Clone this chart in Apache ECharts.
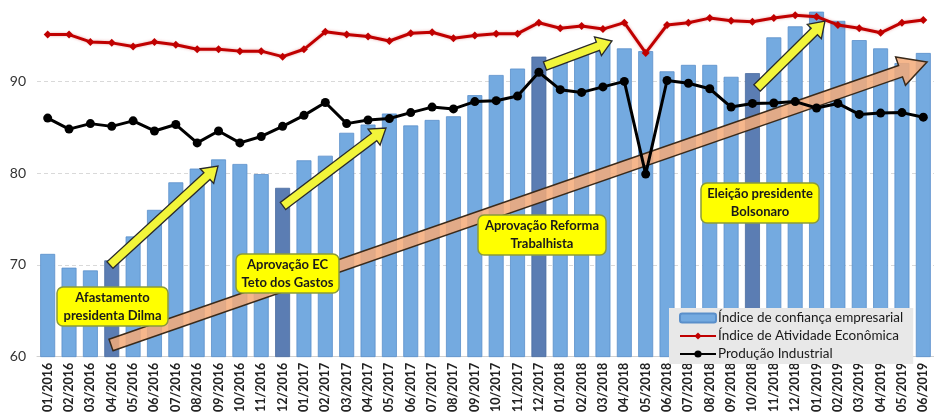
<!DOCTYPE html>
<html>
<head>
<meta charset="utf-8">
<script src="https://cdn.jsdelivr.net/npm/echarts@6/dist/echarts.min.js"></script>
<style>html,body{margin:0;padding:0;background:#fff}#c{width:934px;height:415px}</style>
</head>
<body>
<div id="c"></div>
<script>
const categories = ['01/2016','02/2016','03/2016','04/2016','05/2016','06/2016','07/2016','08/2016','09/2016','10/2016','11/2016','12/2016',
'01/2017','02/2017','03/2017','04/2017','05/2017','06/2017','07/2017','08/2017','09/2017','10/2017','11/2017','12/2017',
'01/2018','02/2018','03/2018','04/2018','05/2018','06/2018','07/2018','08/2018','09/2018','10/2018','11/2018','12/2018',
'01/2019','02/2019','03/2019','04/2019','05/2019','06/2019'];
const confianca = [71.2,69.7,69.4,70.5,73.1,76.0,79.0,80.5,81.5,81.0,79.9,78.4,
81.4,81.9,84.4,85.3,86.5,85.2,85.8,86.2,88.5,90.7,91.4,92.7,
92.4,93.1,94.5,93.6,93.3,91.1,91.8,91.8,90.5,90.9,94.8,96.0,
97.6,96.6,94.5,93.6,92.0,93.1];
const atividade = [95.1,95.1,94.3,94.2,93.8,94.3,94.0,93.5,93.5,93.3,93.3,92.7,
93.5,95.4,95.1,94.9,94.4,95.25,95.35,94.7,95.0,95.2,95.2,96.4,
95.8,96.05,95.7,96.4,93.1,96.15,96.4,96.9,96.6,96.5,96.9,97.2,
97.05,96.15,95.8,95.3,96.4,96.7];
const producao = [86.0,84.8,85.4,85.1,85.7,84.6,85.3,83.3,84.6,83.3,84.0,85.1,
86.3,87.7,85.4,85.8,85.95,86.6,87.2,87.0,87.8,87.9,88.4,91.0,
89.1,88.8,89.4,90.0,79.9,90.1,89.8,89.2,87.2,87.6,87.65,87.8,
87.1,87.6,86.4,86.55,86.6,86.1];
const highlighted = ['04/2016','12/2016','12/2017','10/2018'];
const yTicks = [60,70,80,90];

const FONT = 'Lato, "Open Sans", sans-serif';
const barColor = '#74aae0', barBorder = '#5a8fca', darkColor = '#5b7db3';
const gridC = '#d9d9d9';

function arrowPts(x1,y1,x2,y2,w,hw,hl){
  const dx=x2-x1, dy=y2-y1, L=Math.hypot(dx,dy);
  const ux=dx/L, uy=dy/L, nx=-uy, ny=ux;
  const bx=x2-ux*hl, by=y2-uy*hl;
  return [[x1+nx*w/2,y1+ny*w/2],[bx+nx*w/2,by+ny*w/2],[bx+nx*hw/2,by+ny*hw/2],[x2,y2],
          [bx-nx*hw/2,by-ny*hw/2],[bx-nx*w/2,by-ny*w/2],[x1-nx*w/2,y1-ny*w/2]];
}
function yellowArrow(x1,y1,x2,y2){
  return {type:'polygon', z:20, shape:{points:arrowPts(x1,y1,x2,y2,9,20,15)},
    style:{fill:'#f2f53a', stroke:'#2a2a2a', lineWidth:1.3}};
}
function box(x,y,w,h,lines){
  return {type:'group', z:30, children:[
    {type:'rect', z:30, shape:{x:x,y:y,width:w,height:h,r:6}, style:{fill:'#ffff00', stroke:'#8a9a3a', lineWidth:1.5}},
    {type:'text', z:31, x:x+w/2, y:y+h/2, style:{text:lines.join('\n'), font:'bold 13px '+FONT, fill:'#1a1a1a',
      align:'center', verticalAlign:'middle', lineHeight:18}}
  ]};
}

const chart = echarts.init(document.getElementById('c'), null, {renderer:'canvas'});
chart.setOption({
  animation:false,
  textStyle:{fontFamily:FONT},
  grid:{left:37, right:-5, top:8, bottom:57},
  legend:{
    orient:'vertical', left:669, top:308, width:250, itemWidth:36, itemHeight:9, itemGap:4,
    backgroundColor:'#e8e8e8', padding:[3,10,3,10], borderRadius:0,
    textStyle:{fontSize:13.5, color:'#1a1a1a', fontFamily:FONT, padding:[0,0,0,-3]},
    data:['Índice de confiança empresarial','Índice de Atividade Econômica','Produção Industrial']
  },
  xAxis:{
    type:'category', data:categories, boundaryGap:true,
    axisLine:{lineStyle:{color:'#d0d0d0', width:1}}, axisTick:{show:false},
    axisLabel:{rotate:90, interval:0, fontSize:12.5, color:'#222', fontFamily:FONT, fontWeight:'bold', margin:6}
  },
  yAxis:{
    type:'value', min:60, max:98, interval:10,
    axisLine:{show:false}, axisTick:{show:false},
    axisLabel:{fontSize:14, color:'#333', fontFamily:FONT, margin:11,
      formatter:v=> yTicks.indexOf(v)>=0 ? String(v) : ''},
    splitLine:{show:true, lineStyle:{color:[gridC,gridC,gridC,gridC,'rgba(0,0,0,0)'], type:[4,3], width:1}},
  },
  series:[
    {name:'Índice de confiança empresarial', type:'bar', z:2, barCategoryGap:'30%',
     itemStyle:{color:barColor, borderColor:barBorder, borderWidth:0.8},
     data:confianca.map((v,i)=> highlighted.indexOf(categories[i])>=0 ? {value:v, itemStyle:{color:darkColor, borderColor:'#4a6ca0'}} : v)},
    {name:'Índice de Atividade Econômica', type:'line', z:5, data:atividade,
     symbol:'diamond', symbolSize:8, lineStyle:{color:'#c00000', width:3, shadowColor:'rgba(192,0,0,0.35)', shadowBlur:3},
     itemStyle:{color:'#c00000'}},
    {name:'Produção Industrial', type:'line', z:6, data:producao,
     symbol:'circle', symbolSize:9, lineStyle:{color:'#000', width:3}, itemStyle:{color:'#000'}}
  ],
  graphic:[
    {type:'polygon', z:4, shape:{points:arrowPts(111,345,927,62,12,30,28)},
     style:{fill:'rgba(244,170,120,0.85)', stroke:'#3a2a1a', lineWidth:1.5}},
    yellowArrow(110,265,218,166),
    yellowArrow(283,206,386,128),
    yellowArrow(545,66,612,41),
    yellowArrow(757,88,825,21),
    box(57,287,111,39,['Afastamento','presidenta Dilma']),
    box(236,254,103,39,['Aprovação EC','Teto dos Gastos']),
    box(478,215,128,40,['Aprovação Reforma','Trabalhista']),
    box(701,183,118,40,['Eleição presidente','Bolsonaro'])
  ]
});
</script>
</body>
</html>
